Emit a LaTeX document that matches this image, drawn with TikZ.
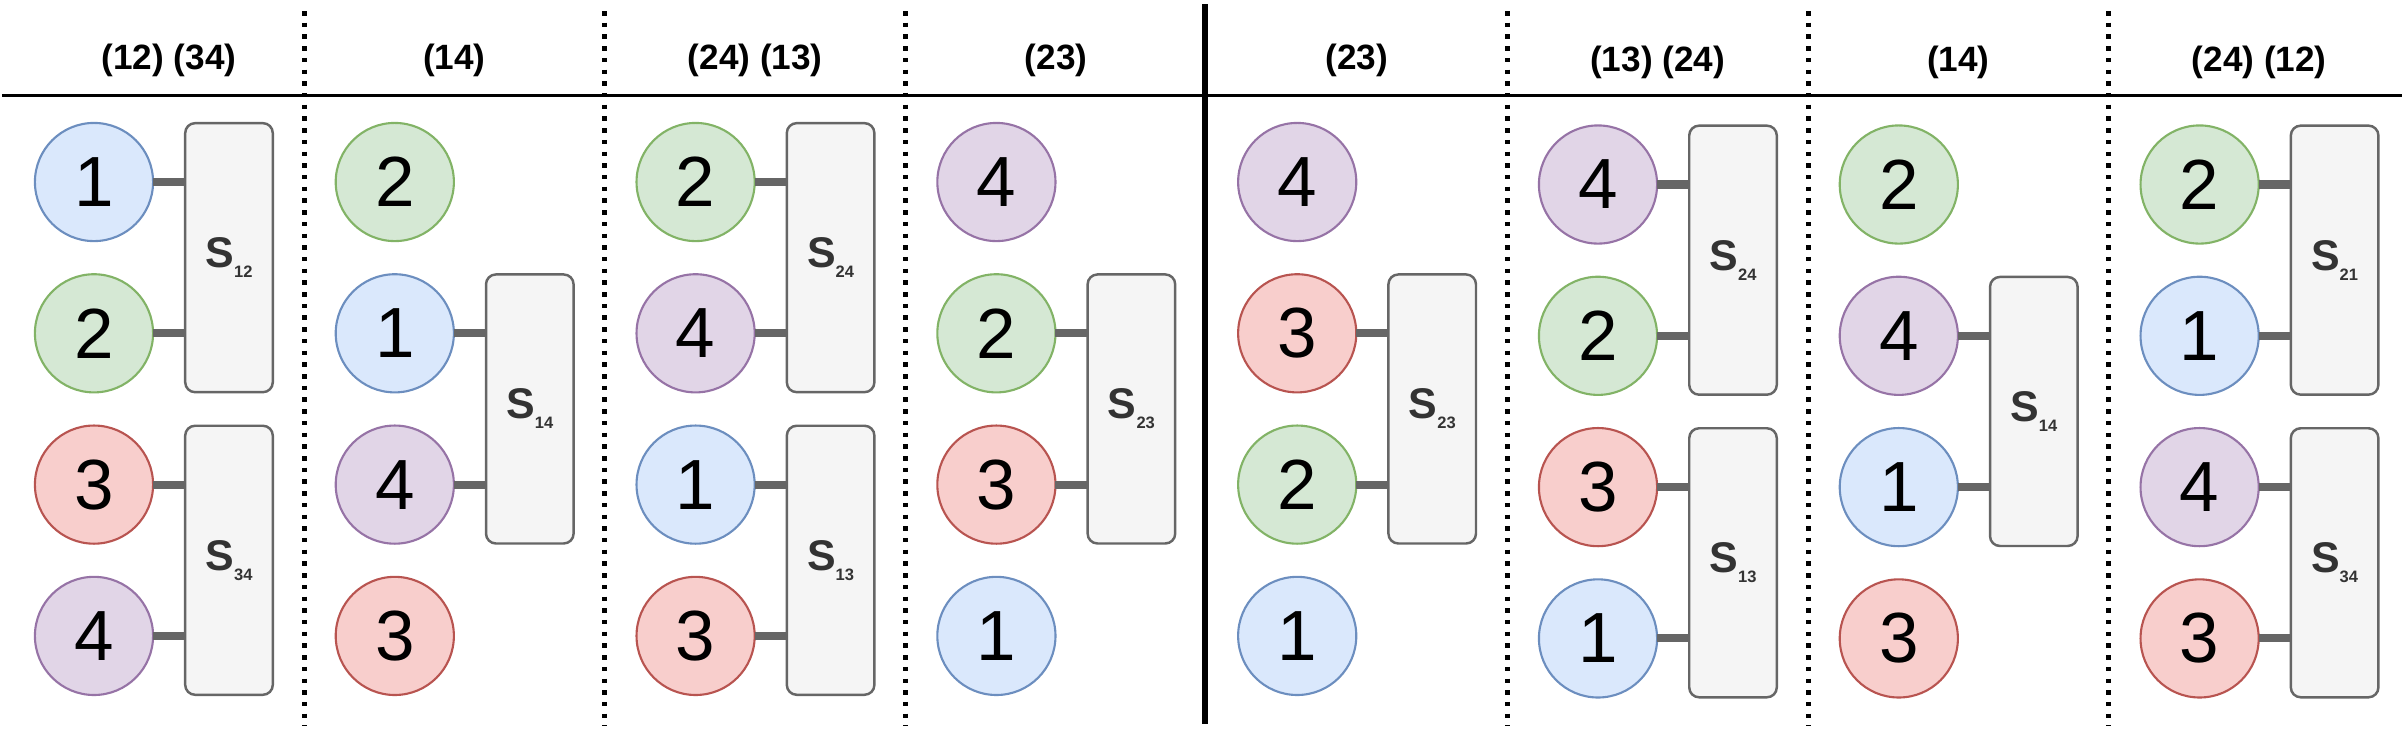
\documentclass[tikz,border=0pt]{standalone}
\usepackage{fontspec}
\setmainfont{Liberation Sans}
\definecolor{bluef}{HTML}{DAE8FC}\definecolor{blued}{HTML}{6C8EBF}
\definecolor{greenf}{HTML}{D5E8D4}\definecolor{greend}{HTML}{82B366}
\definecolor{redf}{HTML}{F8CECC}\definecolor{redd}{HTML}{B85450}
\definecolor{purplef}{HTML}{E1D5E7}\definecolor{purpled}{HTML}{9673A6}
\definecolor{boxf}{HTML}{F5F5F5}\definecolor{boxd}{HTML}{666666}
\definecolor{labc}{HTML}{333333}
\newcommand\slab[1]{{\fontsize{12.2pt}{12.2pt}\selectfont\bfseries S}\raisebox{-2.85pt}{\fontsize{4.7pt}{4.7pt}\selectfont\bfseries #1}}
\tikzset{
  every node/.style={inner sep=0pt, outer sep=0pt},
  cir/.style={circle, minimum size=33.6pt, line width=0.6pt, font=\fontsize{20.2pt}{20.2pt}\selectfont},
  n1/.style={fill=bluef, draw=blued},
  n2/.style={fill=greenf, draw=greend},
  n3/.style={fill=redf, draw=redd},
  n4/.style={fill=purplef, draw=purpled},
  sbox/.style={rectangle, rounded corners=2.8pt, fill=boxf, draw=boxd, line width=0.7pt,
               minimum width=24.9pt, minimum height=76.5pt, text=labc},
  conn/.style={draw=boxd, line width=2.3pt},
  head/.style={font=\fontsize{10pt}{10pt}\selectfont\bfseries},
  dotline/.style={line width=1.42pt, dash pattern=on 1.28pt off 2.05pt},
}
\begin{document}
\begin{tikzpicture}[x=0.01cm, y=-0.01cm]
\useasboundingbox (0,0) rectangle (2406,732);
% headers
\foreach \k/\hx/\h/\dy in {0/169/{(12) (34)}/0, 1/454.4/{(14)}/0, 2/755.2/{(24) (13)}/0, 3/1056/{(23)}/0,
    4/1356.8/{(23)}/0, 5/1657.6/{(13) (24)}/2.5, 6/1958.4/{(14)}/2.5, 7/2259.2/{(24) (12)}/2.5}
  {\node[head] (h\k) at (\hx, 60+\dy) {\h};}
% circles
\foreach \k/\dy/\nums in {0/0/{1,2,3,4}, 1/0/{2,1,4,3}, 2/0/{2,4,1,3}, 3/0/{4,2,3,1},
    4/0/{4,3,2,1}, 5/2.5/{4,2,3,1}, 6/2.5/{2,4,1,3}, 7/2.5/{2,1,4,3}}
  {\foreach \n [count=\r from 0] in \nums
    {\node[cir, n\n] (c\k\r) at ({94+300.8*\k}, {182+151.3*\r+\dy}) {\raisebox{-0.75pt}{\n}};}}
% boxes and connectors
\foreach \k/\dy/\r/\lab in {0/0/0/12, 0/0/2/34, 1/0/1/14, 2/0/0/24, 2/0/2/13, 3/0/1/23, 4/0/1/23,
    5/2.5/0/24, 5/2.5/2/13, 6/2.5/1/14, 7/2.5/0/21, 7/2.5/2/34}
  {\pgfmathtruncatemacro\rr{\r+1}
   \node[sbox] (b\k\r) at ({229+300.8*\k}, {182+151.3*(\r+0.5)+\dy}) {\slab{\lab}};
   \draw[conn] (c\k\r) -- (c\k\r -| b\k\r.west);
   \draw[conn] (c\k\rr) -- (c\k\rr -| b\k\r.west);}
% separators
\draw[line width=0.95pt] (2,95.5) -- (2402,95.5);
\foreach \k in {0,1,2,4,5,6}
  {\draw[dotline] ({304+300.8*\k},11) -- ({304+300.8*\k},726);}
\draw[line width=1.56pt] (1205,4) -- (1205,724);
\end{tikzpicture}
\end{document}
